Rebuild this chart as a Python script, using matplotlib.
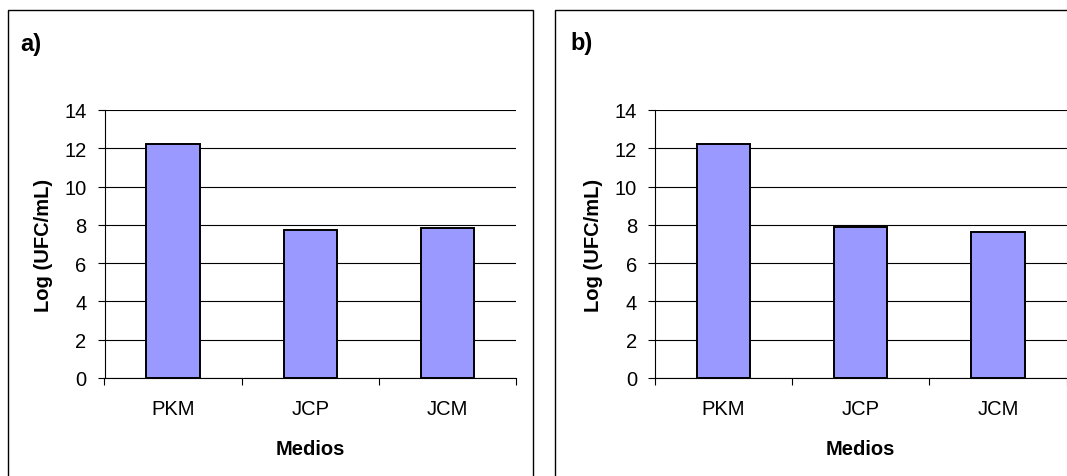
import matplotlib
matplotlib.use("Agg")
import matplotlib.pyplot as plt
from matplotlib.patches import Rectangle

plt.rcParams['font.family'] = ['Liberation Sans', 'DejaVu Sans']

categories = ["PKM", "JCP", "JCM"]
values_a = [12.2, 7.74, 7.82]
values_b = [12.2, 7.88, 7.63]
panel_labels = ["a)", "b)"]
yticks = [0, 2, 4, 6, 8, 10, 12, 14]

W, H = 1067, 477
fig = plt.figure(figsize=(W / 100, H / 100), dpi=100)

def fx(px):
    return px / W

def fy(py):
    return 1 - py / H

# panel frames (pixel coordinates)
frames = [(8, 11, 533, 490), (555, 11, 1080, 490)]
axes_px = [(104.5, 111, 516, 379), (655, 111, 1066.5, 379)]
label_pos = [(20, 51), (570, 50)]

FS = 14.5

for i, vals in enumerate([values_a, values_b]):
    x0, y0, x1, y1 = frames[i]
    fig.patches.append(Rectangle((fx(x0), fy(y1)), fx(x1 - x0), (y1 - y0) / H,
                                 transform=fig.transFigure, fill=False,
                                 edgecolor='black', linewidth=1.0))
    ax0, ay0, ax1, ay1 = axes_px[i]
    ax = fig.add_axes([fx(ax0), fy(ay1), fx(ax1 - ax0), (ay1 - ay0) / H])
    xs = list(range(len(categories)))
    ax.bar(xs, vals, width=0.39, color='#9999FF', edgecolor='black',
           linewidth=1.4, zorder=3)
    ax.set_xlim(-0.5, 2.5)
    ax.set_ylim(0, 14)
    ax.set_yticks(yticks)
    ax.set_yticklabels([str(t) for t in yticks], fontsize=FS)
    ax.set_xticks(xs)
    ax.set_xticklabels(categories, fontsize=FS)
    ax.set_xticks([-0.5, 0.5, 1.5, 2.5], minor=True)
    ax.tick_params(axis='x', which='major', length=0, pad=15)
    ax.tick_params(axis='x', which='minor', length=5, width=0.8, direction='out')
    ax.tick_params(axis='y', length=5, width=0.8, direction='out', pad=8)
    ax.yaxis.grid(True, color='black', linewidth=0.8, zorder=0)
    ax.set_axisbelow(True)
    for s in ['top', 'right']:
        ax.spines[s].set_visible(False)
    for s in ['left', 'bottom']:
        ax.spines[s].set_linewidth(0.8)
    ax.set_xlabel("Medios", fontsize=FS, fontweight='bold', labelpad=15)
    ax.set_ylabel("Log (UFC/mL)", fontsize=FS, fontweight='bold', labelpad=8)
    lx, ly = label_pos[i]
    fig.text(fx(lx), fy(ly), panel_labels[i], fontsize=17, fontweight='bold',
             ha='left', va='baseline')

fig.savefig("out.png", dpi=100)
